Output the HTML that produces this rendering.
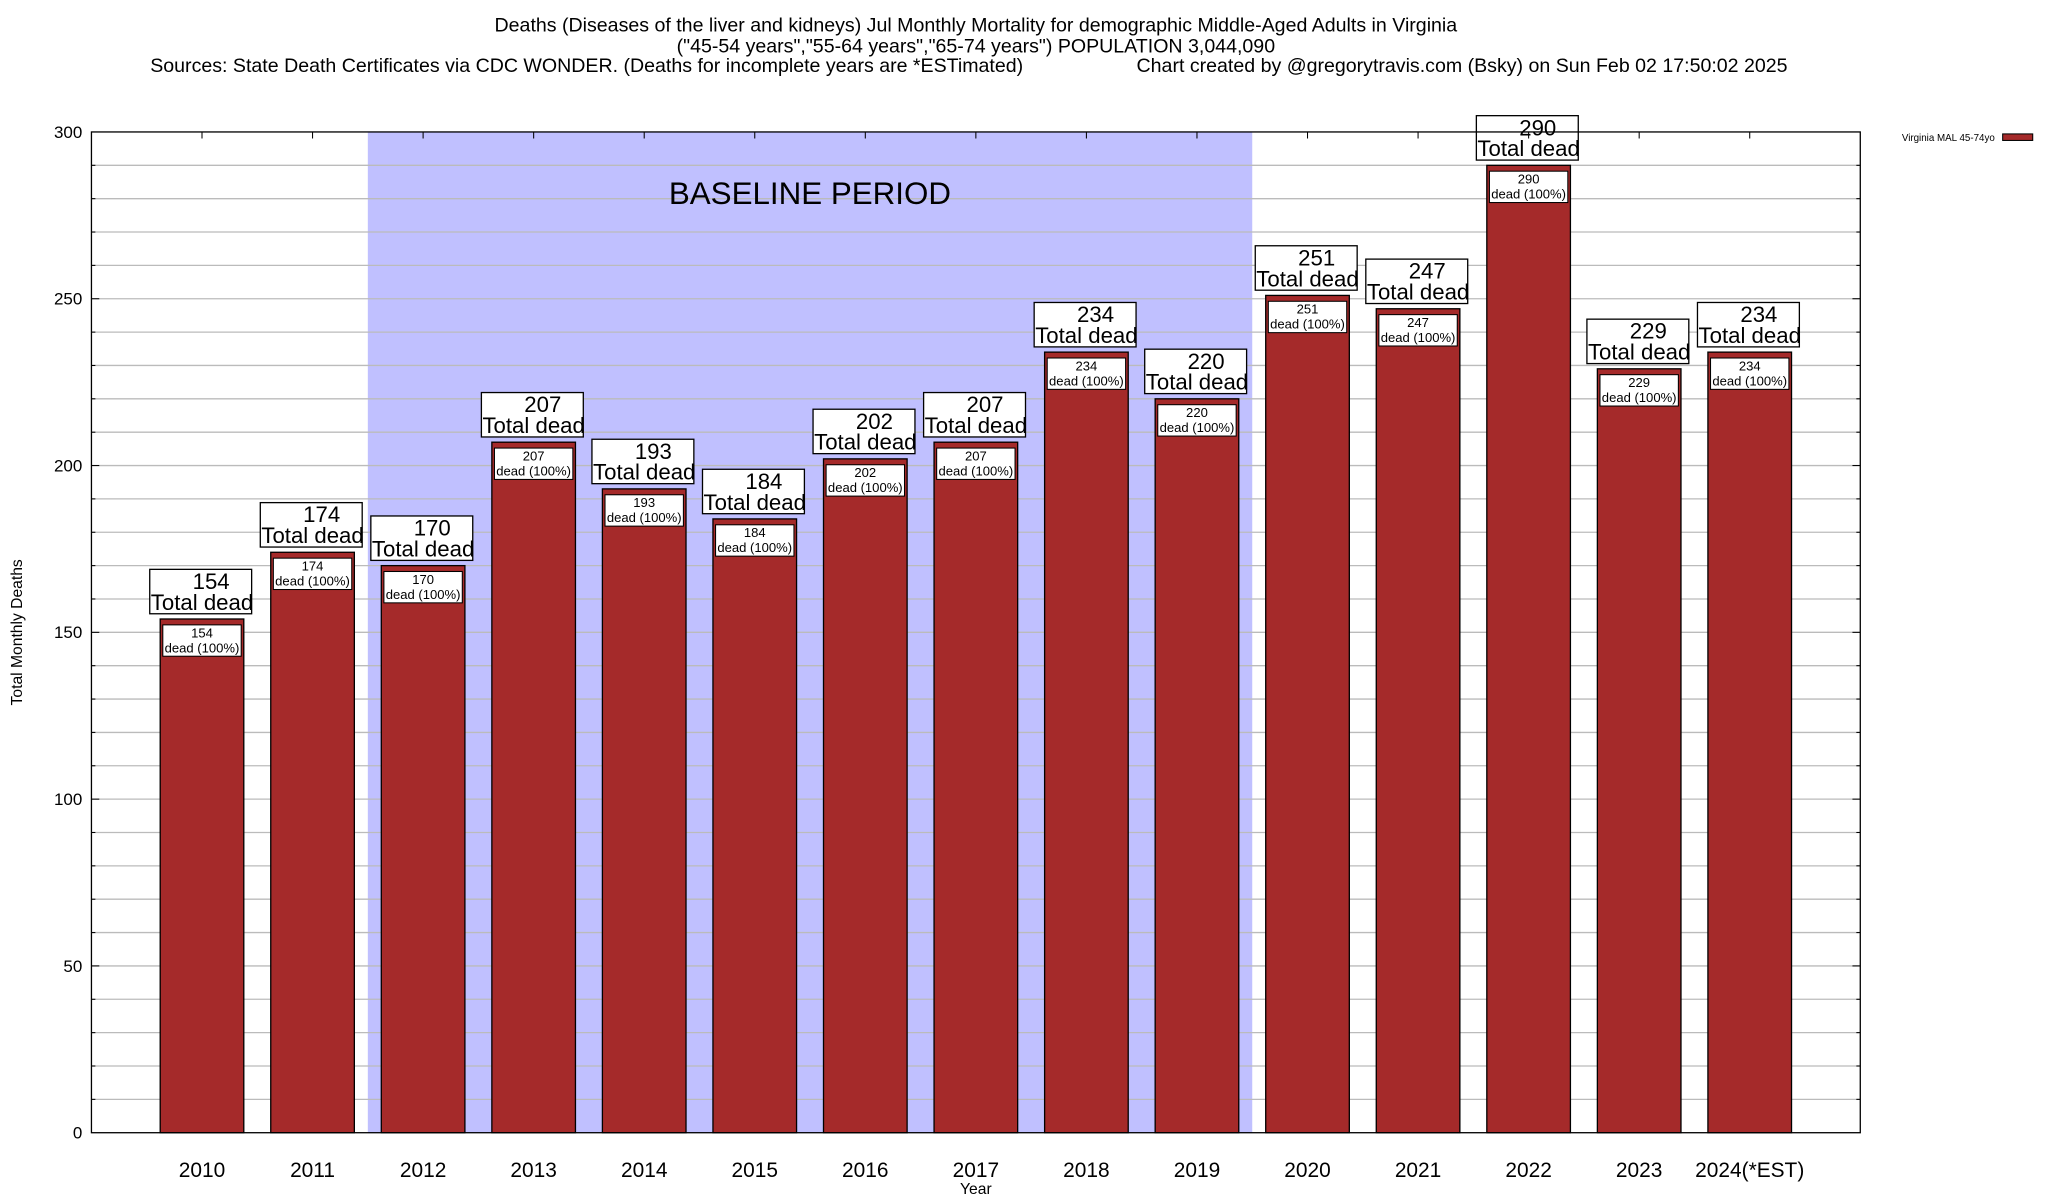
<!DOCTYPE html>
<html><head><meta charset="utf-8"><style>
html,body{margin:0;padding:0;background:#fff;}
svg{display:block;font-family:"Liberation Sans",sans-serif;}
</style></head><body>
<svg id="chart" width="2048" height="1200" viewBox="0 0 1567.7 918.5" preserveAspectRatio="none" xmlns="http://www.w3.org/2000/svg">
<g font-size="15" text-anchor="middle">
<text x="747" y="24">Deaths (Diseases of the liver and kidneys) Jul Monthly Mortality for demographic Middle-Aged Adults in Virginia</text>
<text x="747" y="40">("45-54 years","55-64 years","65-74 years") POPULATION 3,044,090</text>
<text x="115" y="55" text-anchor="start">Sources: State Death Certificates via CDC WONDER. (Deaths for incomplete years are *ESTimated)</text>
<text x="870" y="55" text-anchor="start">Chart created by @gregorytravis.com (Bsky) on Sun Feb 02 17:50:02 2025</text>
</g>
<g id="plot"></g>
<text x="17" y="484" font-size="12" text-anchor="middle" transform="rotate(-90 17 484)">Total Monthly Deaths</text>
<text x="747" y="914" font-size="12" text-anchor="middle">Year</text>
<g>
<text x="1527" y="108" font-size="7.5" text-anchor="end">Virginia MAL 45-74yo</text>
<rect x="1533" y="102.5" width="23" height="5" fill="#a52a2a" stroke="#000" stroke-width="0.8"/>
</g>
</svg>
<script>
const categories = ["2010","2011","2012","2013","2014","2015","2016","2017","2018","2019","2020","2021","2022","2023","2024(*EST)"];
const deaths = [154,174,170,207,193,184,202,207,234,220,251,247,290,229,234];
const yTicks = [0,50,100,150,200,250,300];
const baselineStart = 2; // index of 2012
const baselineEnd = 9;   // index of 2019

const L=70,R=1424,T=101,B=867;
const ymax=300;
function y(v){return B-(v/ymax)*(B-T);}
function x(i){return L+(i+1)*(R-L)/(categories.length+1);}
const bw=64;
const NS="http://www.w3.org/2000/svg";
const g=document.getElementById('plot');
function el(tag,attrs,parent){const e=document.createElementNS(NS,tag);for(const k in attrs)e.setAttribute(k,attrs[k]);(parent||g).appendChild(e);return e;}

const reg=el('rect',{x:x(baselineStart-0.5),y:T,width:x(baselineEnd+0.5)-x(baselineStart-0.5),height:B-T,fill:'#c0c0ff'});


for(let v=10;v<ymax;v+=10){
  const ln=el('line',{x1:L,x2:R,y1:y(v),y2:y(v),stroke:'#bbbbbb','stroke-width':1});
  
  
  const len=(v%50===0)?6:3;
  el('line',{x1:L,x2:L+len,y1:y(v),y2:y(v),stroke:'#000','stroke-width':0.8});
  el('line',{x1:R,x2:R-len,y1:y(v),y2:y(v),stroke:'#000','stroke-width':0.8});
}
const bt=el('text',{x:620,y:156,'font-size':24,'text-anchor':'middle'});
bt.textContent='BASELINE PERIOD';


yTicks.forEach(v=>{
  const t=el('text',{x:63,y:y(v)+4.5,'font-size':13,'text-anchor':'end'});
  t.textContent=v;
  
  
});
categories.forEach((c,i)=>{
  const v=deaths[i],cx=x(i),top=y(v);
  const grp=el('g',{});
  
  
  el('rect',{x:cx-bw/2,y:top,width:bw,height:B-top,fill:'#a52a2a',stroke:'#000','stroke-width':1},grp);
  el('rect',{x:cx-bw/2+2,y:top+4.5,width:bw-4,height:24,fill:'#fff',stroke:'#000','stroke-width':0.8},grp);
  const t1=el('text',{x:cx,y:top+14,'font-size':10,'text-anchor':'middle'},grp);t1.textContent=v;
  const t2=el('text',{x:cx,y:top+25.5,'font-size':10,'text-anchor':'middle'},grp);t2.textContent='dead (100%)';
  const lb=el('g',{});
  
  
  el('rect',{x:cx-40,y:top-38,width:78,height:34,fill:'#fff',stroke:'#000','stroke-width':1},lb);
  const t3=el('text',{x:cx+7,y:top-23,'font-size':17,'text-anchor':'middle'},lb);t3.textContent=v;
  const t4=el('text',{x:cx,y:top-7,'font-size':17,'text-anchor':'middle'},lb);t4.textContent='Total dead';
  const xl=el('text',{x:cx,y:901,'font-size':16,'text-anchor':'middle'});
  xl.textContent=c;
  
  
  el('line',{x1:cx,x2:cx,y1:T,y2:T+5,stroke:'#000','stroke-width':0.8});
});
const fr=el('rect',{x:L,y:T,width:R-L,height:B-T,fill:'none',stroke:'#000','stroke-width':1});


</script>
</body></html>
